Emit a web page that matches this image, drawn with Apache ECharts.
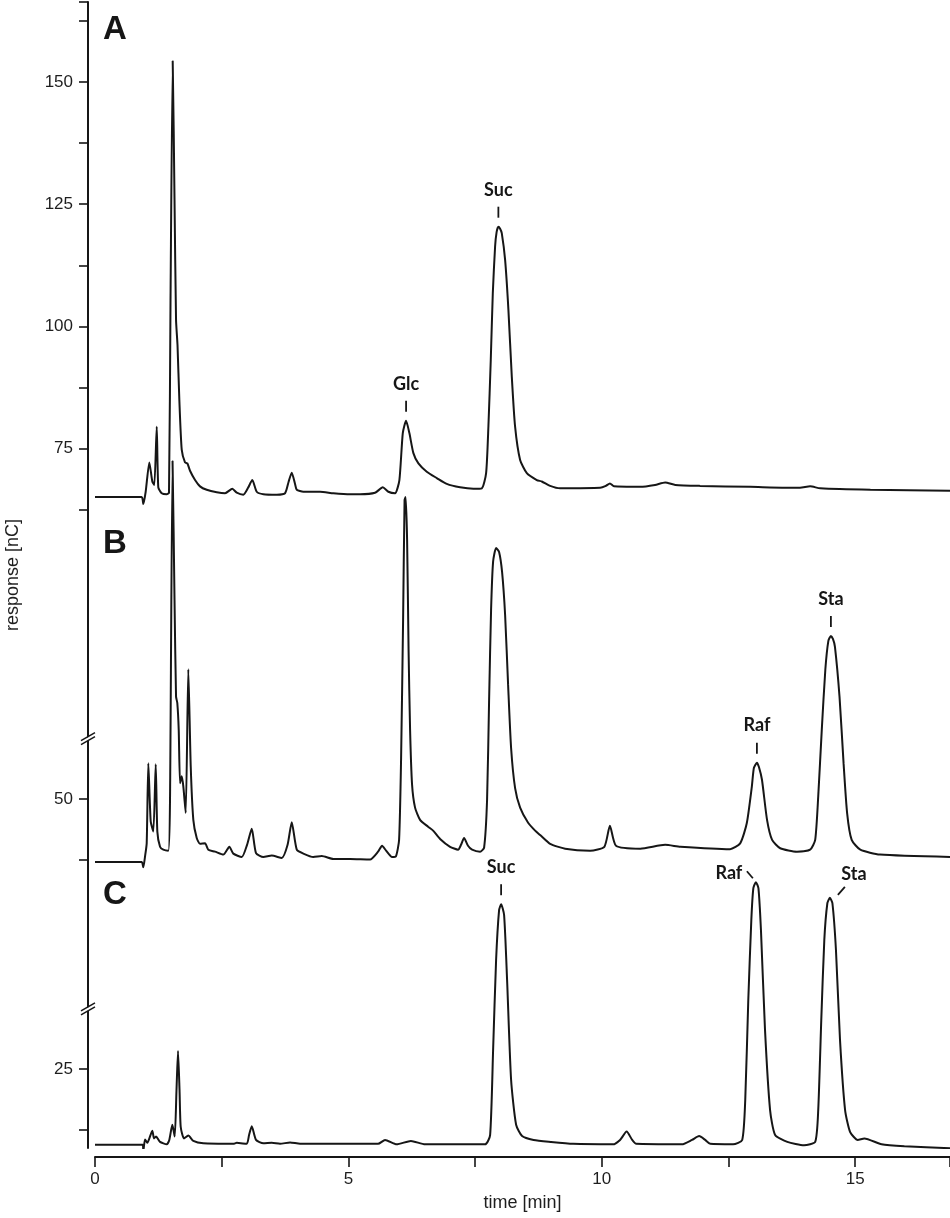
<!DOCTYPE html>
<html><head><meta charset="utf-8">
<script src="https://cdn.jsdelivr.net/npm/echarts@6/dist/echarts.min.js"></script>
<style>html,body{margin:0;padding:0;background:#fff}#c{width:950px;height:1218px}</style>
</head><body><div id="c"></div>
<script>
// ---- data (time [min], response [nC]) ----
const traceA = [[0,65.1],[0.92,65.1],[0.953,63.7],[1.0,66.2],[1.072,72.2],[1.131,68.3],[1.17,67.6],[1.218,79.5],[1.249,67.1],[1.316,65.9],[1.415,65.7],[1.46,66.0],[1.49,105.4],[1.533,154.3],[1.569,125.9],[1.599,101.3],[1.628,96.2],[1.664,85.0],[1.711,74.8],[1.776,72.2],[1.822,72.0],[1.875,70.5],[1.974,68.6],[2.072,67.3],[2.204,66.6],[2.402,66.1],[2.566,65.9],[2.71,66.8],[2.797,66.0],[2.927,65.6],[3.02,67.0],[3.104,68.6],[3.191,66.2],[3.322,65.7],[3.586,65.6],[3.75,65.9],[3.819,68.2],[3.882,70.1],[3.947,67.8],[3.981,66.6],[4.111,66.2],[4.441,66.2],[4.703,65.9],[5.033,65.7],[5.23,65.7],[5.526,66.0],[5.678,67.1],[5.788,66.2],[5.921,65.9],[6.006,68.6],[6.073,78.2],[6.138,80.7],[6.203,78.2],[6.282,74.1],[6.381,72.0],[6.546,70.3],[6.744,69.0],[6.941,67.8],[7.203,67.1],[7.466,66.8],[7.632,66.9],[7.717,70.0],[7.762,79.5],[7.809,93.2],[7.849,106.8],[7.894,116.3],[7.924,119.3],[7.959,120.4],[7.993,120.0],[8.026,119.1],[8.092,113.6],[8.157,103.4],[8.224,89.7],[8.289,79.5],[8.388,72.7],[8.52,70.0],[8.717,68.6],[8.816,68.3],[8.98,67.4],[9.177,66.9],[9.966,67.0],[10.08,67.4],[10.16,67.9],[10.24,67.3],[10.76,67.2],[11.05,67.6],[11.25,68.1],[11.45,67.6],[11.94,67.4],[12.93,67.2],[13.91,67.0],[14.11,67.3],[14.31,66.9],[15.3,66.6],[16.87,66.4]];
const traceB = [[0,37.1],[0.92,37.1],[0.953,36.0],[0.987,38.2],[1.02,40.9],[1.052,57.3],[1.099,45.4],[1.151,43.3],[1.198,57.1],[1.23,43.3],[1.283,40.2],[1.348,39.6],[1.447,39.4],[1.48,49.8],[1.53,119.1],[1.569,90.7],[1.599,70.9],[1.624,69.6],[1.652,64.1],[1.678,53.2],[1.711,54.6],[1.743,52.5],[1.79,47.1],[1.841,76.5],[1.889,56.6],[1.94,45.7],[2.007,42.0],[2.072,40.8],[2.171,40.9],[2.236,39.6],[2.368,39.2],[2.532,38.6],[2.651,40.2],[2.729,38.8],[2.895,38.1],[3.0,40.6],[3.093,43.9],[3.177,38.9],[3.322,38.1],[3.487,38.4],[3.685,37.9],[3.8,40.6],[3.882,45.2],[3.981,39.6],[4.111,38.8],[4.308,38.1],[4.474,38.3],[4.703,37.7],[5.033,37.7],[5.427,37.6],[5.585,39.2],[5.664,40.4],[5.743,39.4],[5.861,38.1],[5.94,38.3],[6.0,41.6],[6.039,58.0],[6.079,86.6],[6.108,111.1],[6.128,111.7],[6.158,103.0],[6.187,80.5],[6.217,64.1],[6.256,52.9],[6.315,48.2],[6.414,45.7],[6.572,44.3],[6.671,43.5],[6.809,41.8],[7.006,40.2],[7.164,39.6],[7.222,40.6],[7.282,42.0],[7.36,40.4],[7.44,39.6],[7.598,39.2],[7.677,40.0],[7.736,49.8],[7.776,70.2],[7.815,88.6],[7.855,98.5],[7.914,101.3],[7.973,100.5],[8.032,96.4],[8.092,87.6],[8.151,73.3],[8.21,60.4],[8.289,52.2],[8.388,48.2],[8.546,45.1],[8.684,43.5],[8.783,42.6],[8.98,40.8],[9.276,39.8],[9.769,39.4],[10.05,40.2],[10.16,44.5],[10.28,40.4],[10.76,39.8],[11.25,40.6],[11.55,40.2],[12.53,39.7],[12.73,40.9],[12.86,45.0],[12.96,52.5],[13.0,56.3],[13.06,57.4],[13.1,56.5],[13.16,53.9],[13.26,45.7],[13.36,41.6],[13.52,39.9],[13.85,39.2],[14.11,39.6],[14.21,41.6],[14.27,50.5],[14.34,64.1],[14.41,76.4],[14.47,82.3],[14.52,83.3],[14.56,82.7],[14.6,81.1],[14.69,70.9],[14.77,57.3],[14.84,47.1],[14.93,41.6],[15.1,39.6],[15.49,38.6],[16.87,38.1]];
const traceC = [[0,9.5],[0.941,9.5],[0.953,8.2],[0.987,10.6],[1.032,9.9],[1.131,12.4],[1.164,10.8],[1.204,11.2],[1.283,10.1],[1.415,9.6],[1.466,10.5],[1.526,13.6],[1.573,11.2],[1.608,20.7],[1.638,28.7],[1.668,20.7],[1.691,13.2],[1.756,10.8],[1.841,11.4],[1.94,10.3],[2.137,9.8],[2.729,9.7],[2.797,9.9],[2.994,9.7],[3.04,11.5],[3.093,13.3],[3.177,10.5],[3.322,9.8],[3.487,9.9],[3.651,9.7],[3.848,10.0],[4.046,9.7],[5.033,9.7],[5.585,9.7],[5.723,10.5],[5.952,9.6],[6.233,10.3],[6.513,9.6],[7.697,9.6],[7.796,11.5],[7.855,28.9],[7.914,47.3],[7.973,57.5],[8.013,58.7],[8.072,56.5],[8.131,43.2],[8.21,22.8],[8.309,13.6],[8.427,11.3],[8.654,10.5],[8.992,10.1],[9.434,9.7],[10.22,9.6],[10.36,10.5],[10.49,12.2],[10.6,10.5],[10.68,9.7],[11.58,9.6],[11.78,10.5],[11.92,11.3],[12.04,10.5],[12.14,9.7],[12.59,9.6],[12.77,10.5],[12.83,18.7],[12.89,39.1],[12.95,55.5],[12.99,62.0],[13.04,63.2],[13.09,62.0],[13.14,53.4],[13.22,33.0],[13.32,16.6],[13.42,11.5],[13.66,10.1],[13.99,9.4],[14.21,10.1],[14.27,16.6],[14.33,35.0],[14.39,51.4],[14.45,58.9],[14.5,60.0],[14.55,58.9],[14.62,49.3],[14.7,30.9],[14.8,16.6],[14.9,12.1],[15.05,10.5],[15.18,10.8],[15.52,9.6],[15.97,9.2],[16.87,8.8]];

const xLabels = [0, 5, 10, 15];
const yTicksA = [162.5, 150, 137.5, 125, 112.5, 100, 87.5, 75, 62.5];
const yLabelsA = [150, 125, 100, 75];
const yTicksB = [50, 37.5];
const yLabelsB = [50];
const yTicksC = [25, 12.5];
const yLabelsC = [25];
const breakB = 62.5;
const breakC = 37.5;
const panelNames = ['A', 'B', 'C'];
const peaksA = [[6.138, 80.7, 'Glc'], [7.959, 120.4, 'Suc']];
const peaksB = [[13.06, 57.4, 'Raf'], [14.52, 83.3, 'Sta']];
const peaksC = [[8.013, 58.7, 'Suc'], [13.04, 63.2, 'Raf'], [14.50, 60.0, 'Sta']];

// ---- layout ----
const INK = '#161616';
const FONT = '"Liberation Sans", Arial, sans-serif';
const SPAN = 234.35; // nC shown over plot height
const axisMins = [-68, -21.4, 8.85];

const chart = echarts.init(document.getElementById('c'), null, {renderer: 'canvas'});

function yAx(i, ticks, labels, extra) {
  return Object.assign({
    type: 'value', position: 'left', offset: 7,
    min: axisMins[i], max: axisMins[i] + SPAN,
    splitLine: {show: false},
    axisLine: {show: i === 0, onZero: false, lineStyle: {color: INK, width: 2}},
    axisTick: {show: true, inside: false, length: 9, lineStyle: {color: INK, width: 1.6}, customValues: ticks},
    axisLabel: {show: true, margin: 15, color: '#1e1e1e', fontSize: 17, fontFamily: FONT, customValues: labels}
  }, extra || {});
}

const option = {
  animation: false,
  backgroundColor: '#fff',
  grid: {left: 95, right: 0, top: 2, bottom: 70, containLabel: false, outerBoundsMode: 'none'},
  xAxis: {
    type: 'value', min: 0, max: 16.87, interval: 2.5, offset: 9,
    splitLine: {show: false},
    axisLine: {onZero: false, lineStyle: {color: INK, width: 2}},
    axisTick: {inside: false, length: 10, lineStyle: {color: INK, width: 1.6}},
    axisLabel: {margin: 14, color: '#1e1e1e', fontSize: 17, fontFamily: FONT, customValues: xLabels},
    name: 'time [min]', nameLocation: 'middle', nameGap: 37,
    nameTextStyle: {color: '#1e1e1e', fontSize: 18, fontFamily: FONT}
  },
  yAxis: [
    yAx(0, yTicksA.concat([axisMins[0] + SPAN]), yLabelsA, {
      name: 'response [nC]', nameLocation: 'middle', nameRotate: 90, nameGap: 66,
      nameTextStyle: {color: '#1e1e1e', fontSize: 18, fontFamily: FONT}
    }),
    yAx(1, yTicksB, yLabelsB),
    yAx(2, yTicksC, yLabelsC)
  ],
  series: [traceA, traceB, traceC].map((d, i) => ({
    type: 'line', data: d, yAxisIndex: i, symbol: 'none', smooth: 0.2,
    lineStyle: {color: INK, width: 2}, silent: true
  }))
};
chart.setOption(option);

// ---- annotations computed from the axes ----
const g = [];
const peakFont = 'bold 18px Lato, "Open Sans", sans-serif';
function line(x1, y1, x2, y2, w) {
  g.push({type: 'line', shape: {x1, y1, x2, y2}, style: {stroke: INK, lineWidth: w || 1.8}, z: 10});
}
function text(x, y, s, font, align, va) {
  g.push({type: 'text', x, y, style: {text: s, font, fill: '#161616', align: align || 'center', verticalAlign: va || 'middle'}, z: 10});
}
function px(axis, t, v) { return chart.convertToPixel({xAxisIndex: 0, yAxisIndex: axis}, [t, v]); }

const annKinds = [['up', 'up'], ['up', 'up'], ['up', 'left', 'right']];
[peaksA, peaksB, peaksC].forEach((peaks, ai) => {
  peaks.forEach((p, k) => {
    const [x, y] = px(ai, p[0], p[1]);
    const kind = annKinds[ai][k];
    if (kind === 'up') {
      line(x, y - 9, x, y - 20);
      text(x, y - 37, p[2], peakFont);
    } else if (kind === 'left') {
      line(x - 9, y - 11, x - 3, y - 4);
      text(x - 27, y - 9, p[2], peakFont);
    } else {
      line(x + 8, y - 3, x + 15, y - 11);
      text(x + 24, y - 24, p[2], peakFont);
    }
  });
});

// axis breaks
const axisX = 88;
[[1, breakB], [2, breakC]].forEach(([ai, v]) => {
  const [, y] = px(ai, 0, v);
  const x = axisX;
  g.push({type: 'polygon', shape: {points: [[x - 7, y + 3.5], [x + 7, y - 4.5], [x + 7, y - 1.5], [x - 7, y + 6.5]]}, style: {fill: '#fff'}, z: 9});
  line(x - 7, y + 3, x + 7, y - 5, 1.4);
  line(x - 7, y + 7, x + 7, y - 1, 1.4);
});

// panel letters
const letterTops = [13, 527, 878];
panelNames.forEach((n, i) => {
  text(103, letterTops[i], n, 'bold 33px ' + FONT, 'left', 'top');
});

chart.setOption({graphic: {elements: g}});
</script>
</body></html>
